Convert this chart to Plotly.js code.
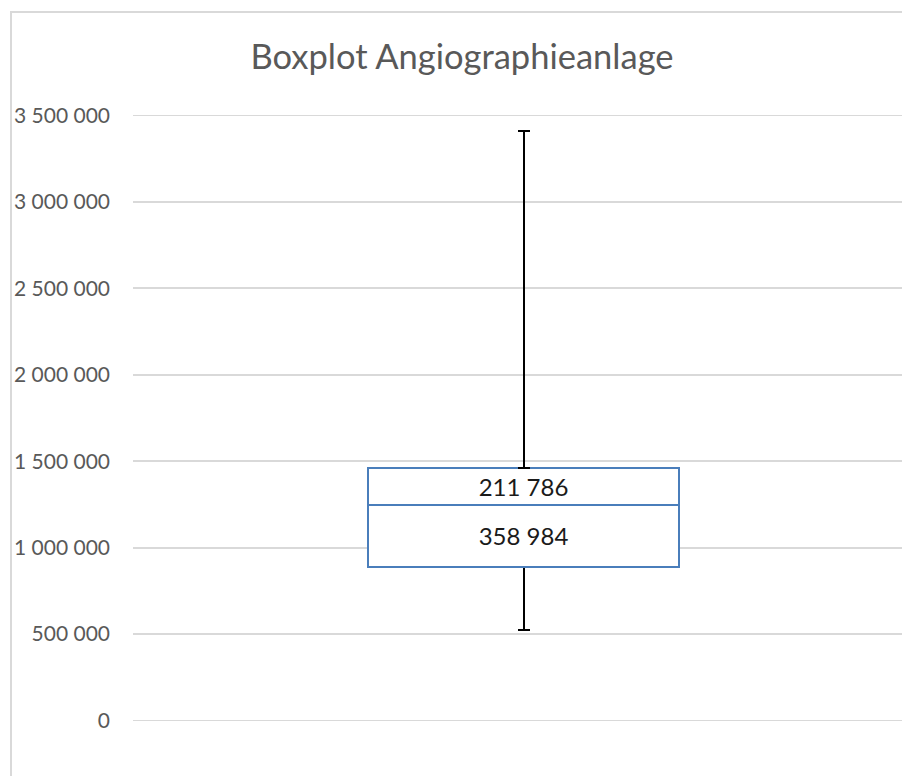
<!DOCTYPE html>
<html>
<head>
<meta charset="utf-8">
<script src="https://cdn.plot.ly/plotly-3.0.1.min.js"></script>
<style>
  html, body { margin: 0; padding: 0; background: #fff; }
  #wrap { position: relative; width: 902px; height: 776px; overflow: hidden; }
  #chart { position: absolute; left: 0; top: 0; width: 902px; height: 776px; }
  #frame { position: absolute; left: 10px; top: 11px; width: 900px; height: 780px;
           border-top: 2px solid #d9d9d9; border-left: 2px solid #d9d9d9; pointer-events: none; box-sizing: border-box; }
</style>
</head>
<body>
<div id="wrap">
  <div id="chart"></div>
  <div id="frame"></div>
</div>
<script>
// ---- data ----
const categories = ['Angiographieanlage'];
const minValues = [523000];
const q1Values = [890000];
const lowerBoxSeg = [358984];   // median - Q1
const upperBoxSeg = [211786];   // Q3 - median
const maxValues = [3413000];
const chartTitle = 'Boxplot Angiographieanlage';

const q3Values = q1Values.map((q, i) => q + lowerBoxSeg[i] + upperBoxSeg[i]);
const lowWhisker = q1Values.map((q, i) => q - minValues[i]);
const highWhisker = maxValues.map((m, i) => m - q3Values[i]);

const boxBlue = '#4a7ebb';
const font = 'Lato, "Open Sans", sans-serif';
const barW = 0.4044;

const traces = [
  {
    type: 'bar', x: categories, y: q1Values, width: barW,
    marker: { color: 'rgba(0,0,0,0)', line: { width: 0 } },
    error_y: { type: 'data', symmetric: false, array: [0], arrayminus: lowWhisker,
               color: '#000', thickness: 2, width: 6 },
    hoverinfo: 'skip', showlegend: false
  },
  {
    type: 'bar', x: categories, y: lowerBoxSeg, width: barW,
    marker: { color: '#ffffff', line: { color: boxBlue, width: 2 } },
    texttemplate: '%{y:,.0f}', textposition: 'inside', insidetextanchor: 'middle',
    textangle: 0, textfont: { family: font, size: 24, color: '#1a1a1a' },
    showlegend: false
  },
  {
    type: 'bar', x: categories, y: upperBoxSeg, width: barW,
    marker: { color: '#ffffff', line: { color: boxBlue, width: 2 } },
    texttemplate: '%{y:,.0f}', textposition: 'inside', insidetextanchor: 'middle',
    textangle: 0, textfont: { family: font, size: 24, color: '#1a1a1a' },
    error_y: { type: 'data', symmetric: false, array: highWhisker, arrayminus: [0],
               color: '#000', thickness: 2, width: 6 },
    showlegend: false
  }
];

const layout = {
  width: 902, height: 776,
  margin: { l: 133, r: 0, t: 112, b: 52 },
  paper_bgcolor: '#ffffff', plot_bgcolor: '#ffffff',
  separators: ', ',
  barmode: 'stack',
  hovermode: false,
  title: { text: chartTitle, x: 462 / 902, xanchor: 'center', y: 1 - 57 / 776, yanchor: 'middle',
           font: { family: font, size: 34.5, color: '#595959' } },
  xaxis: { type: 'category', range: [-0.5078, 0.4922], showticklabels: false, showgrid: false,
           zeroline: false, showline: false, ticks: '' },
  yaxis: { range: [-20000, 3520000], tick0: 0, dtick: 500000, tickformat: ',d', showgrid: true,
           gridcolor: '#d9d9d9', gridwidth: 1.8, zeroline: false, showline: false, ticks: '',
           ticklabelstandoff: 22,
           tickfont: { family: font, size: 21, color: '#595959' } },
  font: { family: font }
};

Plotly.newPlot('chart', traces, layout, { displayModeBar: false, staticPlot: true });
</script>
</body>
</html>
